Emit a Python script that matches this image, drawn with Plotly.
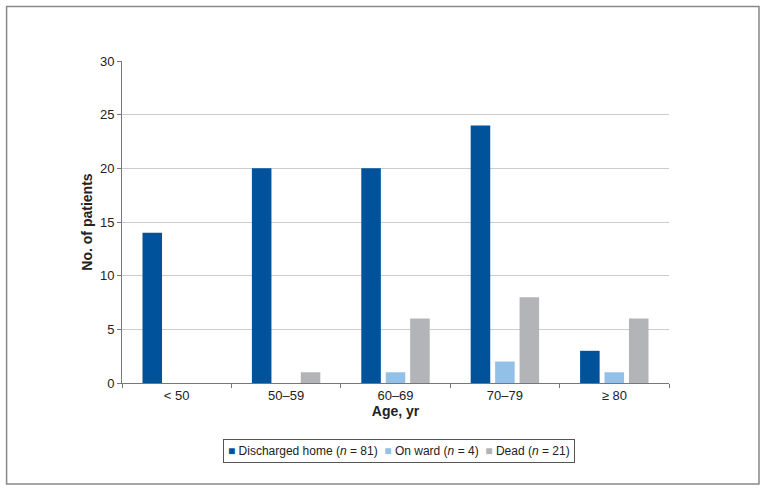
import plotly.graph_objects as go

categories = ["< 50", "50–59", "60–69", "70–79", "≥ 80"]
discharged = [14, 20, 20, 24, 3]
on_ward = [0, 0, 1, 2, 1]
dead = [0, 1, 6, 8, 6]
series_names = ["Discharged home (<i>n</i> = 81)", "On ward (<i>n</i> = 4)", "Dead (<i>n</i> = 21)"]
colors = ["#00539a", "#92c0e6", "#b3b4b8"]

fig = go.Figure()
for name, vals, col in zip(series_names, [discharged, on_ward, dead], colors):
    fig.add_trace(go.Bar(x=categories, y=vals, name=name, showlegend=False,
                         marker=dict(color=col, line=dict(width=0))))

# legend drawn as a bordered text line (compact like the original)
sp = "\u00a0"
legend_text = (sp * 2).join(
    f"<span style='color:{c}'>■</span>{sp}{n}" for n, c in zip(series_names, colors)
)

font_family = "Liberation Sans, Arial, sans-serif"
fig.update_layout(
    width=766, height=491,
    margin=dict(l=122, r=97, t=61, b=108),
    paper_bgcolor="white", plot_bgcolor="white",
    font=dict(family=font_family, size=13, color="#222"),
    barmode="group", bargap=0.33, bargroupgap=0.2,
    showlegend=False,
    xaxis=dict(type="category", tickson="boundaries", ticks="outside", ticklen=4, tickcolor="#777",
               showline=True, linecolor="#777", linewidth=1,
               title=dict(text="<b>Age, yr</b>", font=dict(size=14), standoff=4)),
    yaxis=dict(range=[0, 30], dtick=5, ticks="outside", ticklen=4, tickcolor="#777",
               showline=True, linecolor="#777", linewidth=1,
               showgrid=True, gridcolor="#cccccc", gridwidth=1, zeroline=False,
               title=dict(text="<b>No. of patients</b>", font=dict(size=14), standoff=4)),
    annotations=[dict(text=legend_text, xref="paper", yref="paper", x=0.5064, y=-0.211,
                      xanchor="center", yanchor="middle", showarrow=False,
                      font=dict(size=12, color="#222"),
                      bordercolor="#555", borderwidth=1, borderpad=4, bgcolor="white")],
    shapes=[dict(type="rect", xref="paper", yref="paper",
                 x0=-0.211, x1=1.1645, y0=-0.3137, y1=1.169,
                 line=dict(color="#888", width=1.5))],
)
fig.write_html("out.html", config={"displayModeBar": False},
               post_script="document.body.style.margin='0';")
